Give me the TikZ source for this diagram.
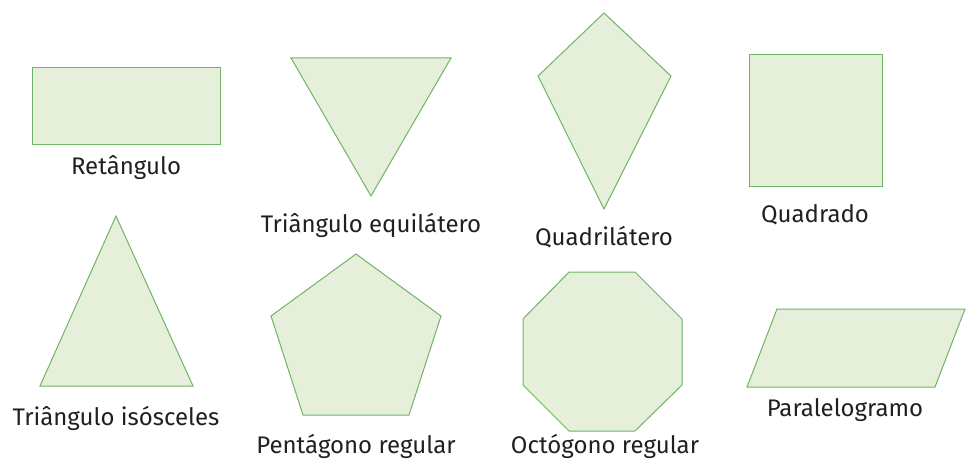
\documentclass[tikz,border=0pt]{standalone}
\usepackage{fontspec}
\setmainfont{Fira Sans}
\usepackage{tikz}
\definecolor{shapefill}{RGB}{230,239,218}
\definecolor{shapeline}{RGB}{112,180,104}
\definecolor{labeltext}{RGB}{35,31,32}

\begin{document}
\begin{tikzpicture}[
  x=1pt, y=-1pt,
  figura/.style={draw=shapeline,fill=shapefill,line width=1pt,line join=miter},
  rotulo/.style={font=\fontsize{24}{28}\selectfont,text=labeltext,inner sep=0pt}
]
  \useasboundingbox (0,0) rectangle (969,473);

  % primeira linha
  \draw[figura] (32,68) rectangle (220,145);
  \node[rotulo] (retangulo) at (126,168) {Retângulo};

  \draw[figura] (291,58) -- (451,58) -- (371,196) -- cycle;
  \node[rotulo] (equilatero) at (371,225) {Triângulo equilátero};

  \draw[figura] (604,13) -- (671,76) -- (604,209) -- (538,76) -- cycle;
  \node[rotulo] (quadrilatero) at (604,237) {Quadrilátero};

  \draw[figura] (749,55) rectangle (882,187);
  \node[rotulo] (quadrado) at (815,215) {Quadrado};

  % segunda linha
  \draw[figura] (116,216) -- (193,386) -- (40,386) -- cycle;
  \node[rotulo] (isosceles) at (116,418) {Triângulo isósceles};

  \draw[figura] (356,254) -- (441,316) -- (409,415) -- (303,415) -- (271,316) -- cycle;
  \node[rotulo] (pentagono) at (356,446) {Pentágono regular};

  \draw[figura] (569,272) -- (635,272) -- (682,319) -- (682,385)
    -- (635,431) -- (569,431) -- (523,385) -- (523,319) -- cycle;
  \node[rotulo] (octogono) at (605,446) {Octógono regular};

  \draw[figura] (777,309) -- (965,309) -- (935,387) -- (747,387) -- cycle;
  \node[rotulo] (paralelogramo) at (845,410) {Paralelogramo};
\end{tikzpicture}
\end{document}
